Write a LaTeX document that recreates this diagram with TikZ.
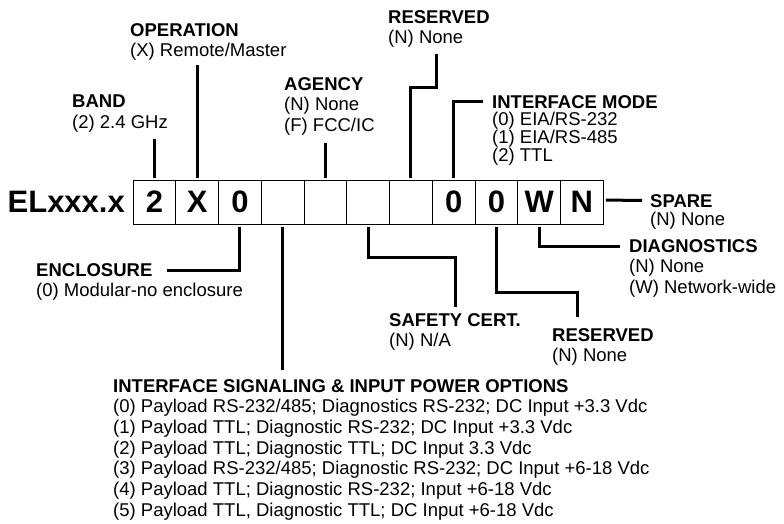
\documentclass[tikz,border=0pt]{standalone}
\usepackage{fontspec}
\setmainfont{Liberation Sans}
\usepackage{tikz}
\usetikzlibrary{positioning}

\begin{document}
\begin{tikzpicture}[x=1pt, y=-1pt,
    digit/.style={draw, line width=0.8pt, minimum width=42.75pt, minimum height=44pt,
                  inner sep=0pt, outer sep=0pt, font=\fontsize{31}{31}\selectfont\bfseries},
    tag/.style={anchor=north west, align=left, inner sep=0pt, font=\fontsize{18.5}{20.7}\selectfont},
    lead/.style={line width=3pt, shorten <=2.5pt}]

    \useasboundingbox (0,0) rectangle (784,524);

    % Nodes {b1, b2, ..., b11}
    \node [digit]   (b1)                       at (154.4,202) {2};
    \node [digit]   (b2)  [right=0pt of b1]    {X};
    \node [digit]   (b3)  [right=0pt of b2]    {0};
    \node [digit]   (b4)  [right=0pt of b3]    {};
    \node [digit]   (b5)  [right=0pt of b4]    {};
    \node [digit]   (b6)  [right=0pt of b5]    {};
    \node [digit]   (b7)  [right=0pt of b6]    {};
    \node [digit]   (b8)  [right=0pt of b7]    {0};
    \node [digit]   (b9)  [right=0pt of b8]    {0};
    \node [digit]   (b10) [right=0pt of b9]    {W};
    \node [digit]   (b11) [right=0pt of b10]   {N};
    \node [inner sep=0pt, font=\fontsize{31}{31}\selectfont\bfseries] (model) [left=8pt of b1] {ELxxx.x};

    % Labels
    \node [tag] (band)   at (72,95)   {\textbf{BAND}\\(2) 2.4 GHz};
    \node [tag] (oper)   at (130,23)  {\textbf{OPERATION}\\(X) Remote/Master};
    \node [tag] (agency) at (284,77)  {\textbf{AGENCY}\\(N) None\\(F) FCC/IC};
    \node [tag] (resv1)  at (388,10)  {\textbf{RESERVED}\\(N) None};
    \node [tag, font=\fontsize{18.5}{17}\selectfont] (mode) at (492,95)
        {\textbf{INTERFACE MODE}\\(0) EIA/RS-232\\(1) EIA/RS-485\\(2) TTL};
    \node [tag, font=\fontsize{18.5}{18}\selectfont] (spare) at (650,194) {\textbf{SPARE}\\(N) None};
    \node [tag] (diag)   at (629,239) {\textbf{DIAGNOSTICS}\\(N) None\\(W) Network-wide};
    \node [tag] (resv2)  at (552,328) {\textbf{RESERVED}\\(N) None};
    \node [tag] (safety) at (389,313) {\textbf{SAFETY CERT.}\\(N) N/A};
    \node [tag] (encl)   at (36,263)  {\textbf{ENCLOSURE}\\(0) Modular-no enclosure};
    \node [tag] (sig)    at (113,379) {\textbf{INTERFACE SIGNALING \& INPUT POWER OPTIONS}\\
        (0) Payload RS-232/485; Diagnostics RS-232; DC Input +3.3 Vdc\\
        (1) Payload TTL; Diagnostic RS-232; DC Input +3.3 Vdc\\
        (2) Payload TTL; Diagnostic TTL; DC Input 3.3 Vdc\\
        (3) Payload RS-232/485; Diagnostic RS-232; DC Input +6-18 Vdc\\
        (4) Payload TTL; Diagnostic RS-232; Input +6-18 Vdc\\
        (5) Payload TTL, Diagnostic TTL; DC Input +6-18 Vdc};

    % Paths
    \draw [lead] (b1.north) -- ++(0,-41);
    \draw [lead] (b2.north) -- ++(0,-115);
    \draw [lead] (b5.north) -- ++(0,-37);
    \draw [lead] (b7.north) -- ++(0,-92) -| ++(26,-34);
    \draw [lead] (b8.north) |- ([xshift=-9pt,yshift=-6.5pt]mode.north west);
    \draw [lead] ([yshift=2pt]b11.east) -- ([xshift=-8pt,yshift=-6.5pt]spare.north west);
    \draw [lead] (b10.south) |- ([xshift=-9pt,yshift=-7pt]diag.north west);
    \draw [lead] (b9.south) -- ++(0,68) -| ([xshift=25pt,yshift=11pt]resv2.north west);
    \draw [lead] (b6.south) -- ++(0,33) -| ([xshift=66pt,yshift=6pt]safety.north west);
    \draw [lead, shorten >=9pt] (b4.south) -- (b4.south |- sig.north);
    \draw [lead] (b3.south) |- ([xshift=131pt,yshift=-7pt]encl.north west);

\end{tikzpicture}
\end{document}
